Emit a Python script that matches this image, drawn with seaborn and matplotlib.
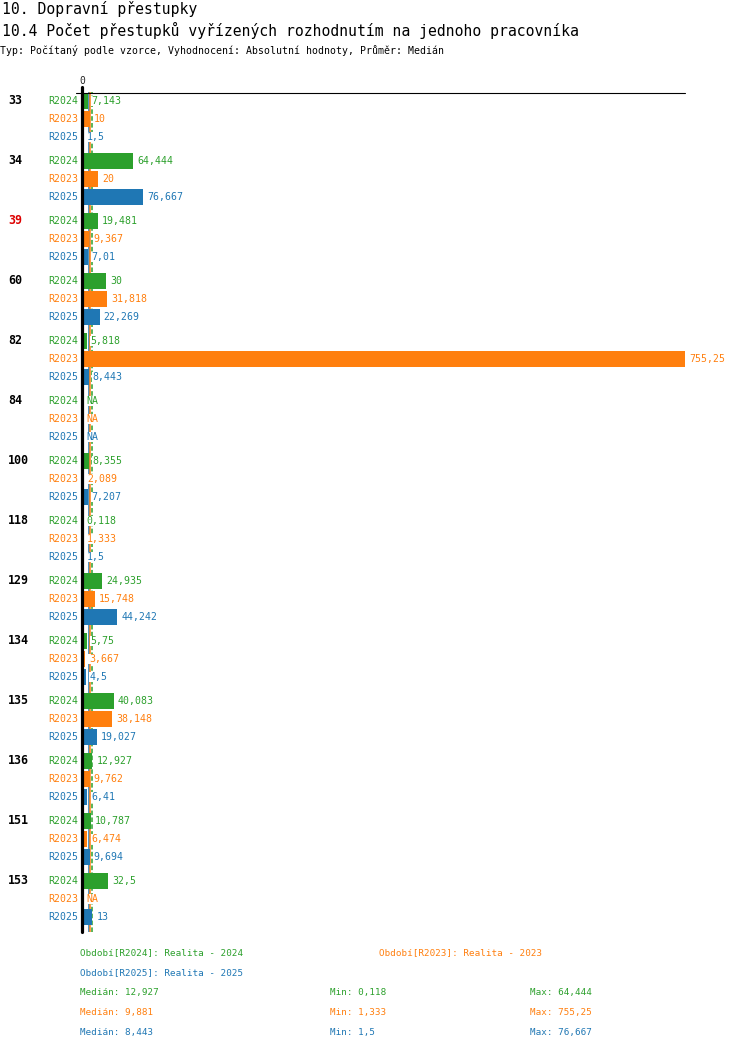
import numpy as np
import pandas as pd
import matplotlib
matplotlib.use("Agg")
import matplotlib.pyplot as plt
import matplotlib.transforms as mtransforms
from matplotlib.lines import Line2D
import seaborn as sns

groups = ['33', '34', '39', '60', '82', '84', '100', '118', '129', '134', '135', '136', '151', '153']
series = ['R2024', 'R2023', 'R2025']
r2024 = [7.143, 64.444, 19.481, 30, 5.818, np.nan, 8.355, 0.118, 24.935, 5.75, 40.083, 12.927, 10.787, 32.5]
r2023 = [10, 20, 9.367, 31.818, 755.25, np.nan, 2.089, 1.333, 15.748, 3.667, 38.148, 9.762, 6.474, np.nan]
r2025 = [1.5, 76.667, 7.01, 22.269, 8.443, np.nan, 7.207, 1.5, 44.242, 4.5, 19.027, 6.41, 9.694, 13]
highlight = ['39']
colors = {'R2024': '#2ca02c', 'R2023': '#ff7f0e', 'R2025': '#1f77b4'}
legend_names = {'R2024': 'Období[R2024]: Realita - 2024',
                'R2023': 'Období[R2023]: Realita - 2023',
                'R2025': 'Období[R2025]: Realita - 2025'}

values = {'R2024': r2024, 'R2023': r2023, 'R2025': r2025}

rows = []
for s in series:
    for g, v in zip(groups, values[s]):
        rows.append({'group': g, 'series': s, 'value': v})
df = pd.DataFrame(rows)


def fmt(v):
    if v is None or (isinstance(v, float) and np.isnan(v)):
        return 'NA'
    return f"{v:g}".replace('.', ',')


sns.set_theme(style='white')
plt.rcParams['font.family'] = ['DejaVu Sans Mono', 'DejaVu Sans']

W, H = 750, 1052
fig = plt.figure(figsize=(W / 100, H / 100), dpi=100)
ax_left, ax_right, ax_top, ax_bot = 82, 685, 92, 932
ax = fig.add_axes([ax_left / W, 1 - ax_bot / H, (ax_right - ax_left) / W, (ax_bot - ax_top) / H])

sns.barplot(data=df, x='value', y='group', hue='series', order=groups, hue_order=series,
            palette=colors, orient='h', width=0.9, gap=0.11, dodge=True,
            errorbar=None, legend=False, ax=ax, saturation=1, zorder=2, linewidth=0)

xmax = np.nanmax(r2023)
ax.set_xlim(0, xmax)
ax.set_ylim(len(groups) - 0.45, -0.45)
ax.set_xlabel('')
ax.set_ylabel('')
ax.set_yticks([])
ax.xaxis.tick_top()
ax.set_xticks([0])
ax.set_xticklabels(['0'], fontsize=7)
ax.tick_params(axis='x', length=0, pad=4)
for sp in ['right', 'bottom', 'left', 'top']:
    ax.spines[sp].set_visible(False)

# axis lines drawn in figure pixels
fig.add_artist(Line2D([81.5 / W, 81.5 / W], [1 - 87 / H, 1 - 932 / H], lw=2.3, color='black'))
fig.add_artist(Line2D([76 / W, 685 / W], [1 - 92.5 / H, 1 - 92.5 / H], lw=0.8, color='black'))

# medians
meds = {s: np.nanmedian(values[s]) for s in series}
ax.axvline(meds['R2025'], color=colors['R2025'], lw=1.1, zorder=1)
ax.axvline(meds['R2023'], color=colors['R2023'], lw=1.1, zorder=1)
ax.axvline(meds['R2024'], color=colors['R2024'], lw=1.1, ls=(0, (3, 1.5)), zorder=1)

# labels
offsets = {'R2024': -0.3, 'R2023': 0.0, 'R2025': 0.3}
yax = ax.get_yaxis_transform()
lab_tr = mtransforms.offset_copy(yax, fig=fig, x=-4, units='dots')
val_tr = mtransforms.offset_copy(ax.transData, fig=fig, x=4, units='dots')
for i, g in enumerate(groups):
    fig_y = ax.transData.transform((0, i - 0.3))[1]
    fig.text(8 / W, fig_y / H, g, fontsize=8.4, fontweight='bold',
             color='#dd0000' if g in highlight else 'black', va='center', ha='left')
    for s in series:
        y = i + offsets[s]
        ax.text(0, y, s, transform=lab_tr, ha='right', va='center', fontsize=7.1, color=colors[s])
        v = values[s][i]
        xv = 0 if np.isnan(v) else v
        ax.text(xv, y, fmt(v), transform=val_tr, ha='left', va='center', fontsize=7.1,
                color=colors[s], clip_on=False, zorder=4,
                bbox=dict(boxstyle='square,pad=0.05', facecolor='white', edgecolor='none'))

# header
fig.text(2 / W, 1 - 9 / H, '10. Dopravní přestupky', fontsize=10.6, va='center', ha='left', color='black')
fig.text(2 / W, 1 - 30 / H, '10.4 Počet přestupků vyřízených rozhodnutím na jednoho pracovníka',
         fontsize=10.6, va='center', ha='left', color='black')
fig.text(0 / W, 1 - 50 / H, 'Typ: Počítaný podle vzorce, Vyhodnocení: Absolutní hodnoty, Průměr: Medián',
         fontsize=7.1, va='center', ha='left', color='black')

# legend / stats
fs = 6.7
fig.text(80 / W, 1 - 953 / H, legend_names['R2024'], fontsize=fs, color=colors['R2024'], va='center')
fig.text(379 / W, 1 - 953 / H, legend_names['R2023'], fontsize=fs, color=colors['R2023'], va='center')
fig.text(80 / W, 1 - 973 / H, legend_names['R2025'], fontsize=fs, color=colors['R2025'], va='center')
for k, s in enumerate(series):
    yy = 1 - (993 + 20 * k) / H
    v = values[s]
    fig.text(80 / W, yy, f"Medián: {fmt(np.nanmedian(v))}", fontsize=fs, color=colors[s], va='center')
    fig.text(330 / W, yy, f"Min: {fmt(np.nanmin(v))}", fontsize=fs, color=colors[s], va='center')
    fig.text(530 / W, yy, f"Max: {fmt(np.nanmax(v))}", fontsize=fs, color=colors[s], va='center')

fig.savefig('out.png', dpi=100, facecolor='white')
